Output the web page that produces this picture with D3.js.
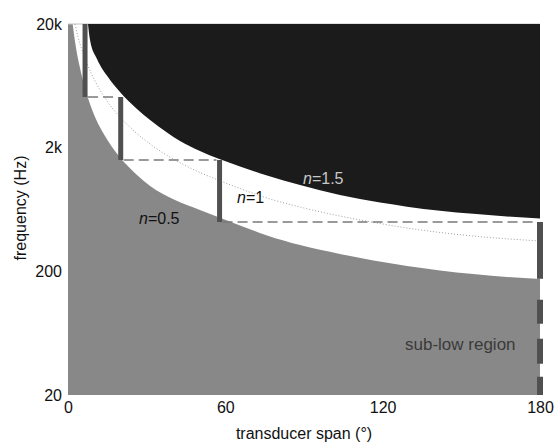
<!DOCTYPE html>
<html><head><meta charset="utf-8">
<script src="https://cdn.jsdelivr.net/npm/d3@7"></script>
<style>
html,body{margin:0;padding:0;background:#fff;}
svg{display:block;font-family:"Liberation Sans",Arial,sans-serif;}
</style></head>
<body>
<svg id="chart" width="556" height="442"></svg>
<script>
// ---- data ----
const xTicks = [0, 60, 120, 180];
const yTicks = [20, 200, 2000, 20000];
const yTickLabels = ["20", "200", "2k", "20k"];

// n = 0.5 boundary (top of grey "sub-low" region)
const spanLow = [1.79, 2.48, 3.32, 4.58, 6.48, 8.39, 10.3, 14.1, 19.1, 26.3, 31.3, 40.8, 50.3, 57.2, 65.6, 75.9, 88.5, 103.7, 129.3, 154.5, 180];
const freqLow = [20000, 15400, 11870, 8810, 6080, 4510, 3540, 2490, 1745, 1202, 980, 755, 627, 550, 470, 390, 326, 276, 221, 190, 173];

// n = 1 (dotted)
const spanMid = [2.67, 3.81, 5.34, 7.63, 10.3, 14.1, 19.8, 25.6, 31.3, 40.8, 50.3, 57.2, 65.6, 75.9, 88.5, 103.7, 119, 129.3, 154.5, 180];
const freqMid = [20000, 15700, 12330, 9150, 6920, 5040, 3540, 2680, 2140, 1590, 1260, 1096, 935, 783, 662, 560, 487, 448, 386, 352];

// n = 1.5 boundary (bottom of dark region)
const spanHigh = [7.63, 8.39, 11.06, 15.25, 19.83, 26.3, 31.3, 37.75, 42.7, 50.3, 57.2, 65.6, 75.9, 88.5, 103.7, 119, 129.3, 154.5, 180];
const freqHigh = [20000, 14850, 10420, 7450, 5640, 4110, 3350, 2650, 2260, 1880, 1635, 1410, 1190, 998, 828, 719, 667, 583, 534];

// vertical bars (transducer spans) and their frequency ranges
const barSpan = [6.5, 20.1, 57.8, 180];
const barTop = [20000, 5140, 1590, 501];
const barBottom = [5140, 1590, 501, 174];

// ---- drawing ----
const svg = d3.select("#chart");
const x = d3.scaleLinear().domain([0, 180]).range([68, 540]);
const y = d3.scaleLog().domain([20, 20000]).range([395, 24]);

const GREY = "#888888", DARK = "#1b1b1b", BAR = "#505050";

// grey background (sub-low region)
svg.append("rect").attr("x", x(0)).attr("y", y(20000))
  .attr("width", x(180) - x(0)).attr("height", y(20) - y(20000)).attr("fill", GREY);

const low = spanLow.map((s, i) => [s, freqLow[i]]);
const mid = spanMid.map((s, i) => [s, freqMid[i]]);
const high = spanHigh.map((s, i) => [s, freqHigh[i]]);

// white region above n=0.5
svg.append("path").datum(low)
  .attr("d", d3.area().x(d => x(d[0])).y0(y(20000)).y1(d => y(d[1])).curve(d3.curveMonotoneX))
  .attr("fill", "#fff");

// top border
svg.append("line").attr("x1", x(0)).attr("x2", x(180)).attr("y1", y(20000)).attr("y2", y(20000))
  .attr("stroke", "#c4c4c4").attr("stroke-width", 1);

// dark region above n=1.5
svg.append("path").datum(high)
  .attr("d", d3.area().x(d => x(d[0])).y0(y(20000)).y1(d => y(d[1])).curve(d3.curveMonotoneX))
  .attr("fill", DARK);

// n=1 dotted
svg.append("path").datum(mid)
  .attr("d", d3.line().x(d => x(d[0])).y(d => y(d[1])).curve(d3.curveMonotoneX))
  .attr("fill", "none").attr("stroke", "#a0a0a0").attr("stroke-width", 1)
  .attr("stroke-dasharray", "1,2");

// dashed horizontal connectors
for (let i = 0; i < barSpan.length - 1; i++) {
  svg.append("line")
    .attr("x1", x(barSpan[i]) + 3).attr("x2", x(barSpan[i + 1]) - 3)
    .attr("y1", y(barBottom[i])).attr("y2", y(barBottom[i]))
    .attr("stroke", "#7a7a7a").attr("stroke-width", 1.6).attr("stroke-dasharray", "10,5");
}

// bars
barSpan.forEach((s, i) => {
  svg.append("line")
    .attr("x1", x(s)).attr("x2", x(s))
    .attr("y1", y(barTop[i])).attr("y2", y(barBottom[i]))
    .attr("stroke", BAR).attr("stroke-width", i === 3 ? 6 : 5);
});
// dashed continuation of last bar into sub-low region
svg.append("line")
  .attr("x1", x(180)).attr("x2", x(180))
  .attr("y1", y(barBottom[3])).attr("y2", y(20))
  .attr("stroke", BAR).attr("stroke-width", 6)
  .attr("stroke-dasharray", "0,21,24,15,25,13,30");

// axes
const yAxis = d3.axisLeft(y).tickValues(yTicks).tickFormat((d, i) => yTickLabels[i]).tickSize(0).tickPadding(6);
const gy = svg.append("g").attr("transform", `translate(${x(0)},0)`).call(yAxis);
gy.select(".domain").remove();
gy.selectAll("text").attr("font-size", 16).attr("fill", "#111").style("font-family", "Liberation Sans, Arial, sans-serif");

const xAxis = d3.axisBottom(x).tickValues(xTicks).tickFormat(d3.format("d")).tickSize(0).tickPadding(7);
const gx = svg.append("g").attr("transform", `translate(0,${y(20)})`).call(xAxis);
gx.select(".domain").remove();
gx.selectAll("text").attr("font-size", 16).attr("fill", "#111").style("font-family", "Liberation Sans, Arial, sans-serif");

// axis titles
svg.append("text").attr("x", 304).attr("y", 439).attr("text-anchor", "middle")
  .attr("font-size", 16).attr("fill", "#111").text("transducer span (°)");
svg.append("text").attr("transform", "translate(26,208) rotate(-90)").attr("text-anchor", "middle")
  .attr("font-size", 16).attr("fill", "#111").text("frequency (Hz)");

// n labels
function nLabel(xp, yp, val, color) {
  const t = svg.append("text").attr("x", xp).attr("y", yp).attr("font-size", 16).attr("fill", color);
  t.append("tspan").attr("font-style", "italic").text("n");
  t.append("tspan").text("=" + val);
}
nLabel(303, 184, "1.5", "#c8c8c8");
nLabel(237, 203, "1", "#111");
nLabel(139, 224, "0.5", "#111");

svg.append("text").attr("x", 405).attr("y", 350).attr("font-size", 17).attr("fill", "#3a3a3a").text("sub-low region");
</script>
</body></html>
